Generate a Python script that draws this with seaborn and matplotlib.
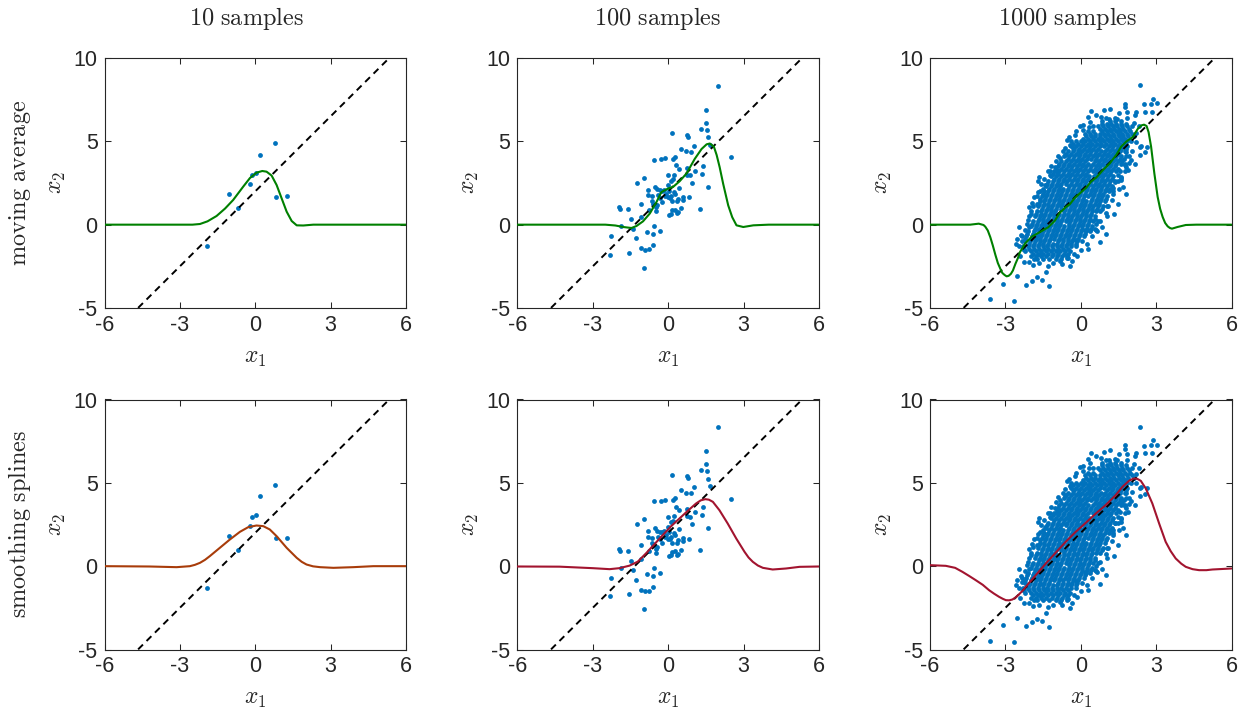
import numpy as np
import pandas as pd
import matplotlib
matplotlib.use('Agg')
import matplotlib.pyplot as plt
import seaborn as sns

sns.set_theme(style='ticks')
plt.rcParams['font.family'] = ['Liberation Sans', 'DejaVu Sans']
plt.rcParams['mathtext.fontset'] = 'cm'
plt.rcParams['axes.unicode_minus'] = False

# ---- data ----
col_titles = ['10 samples', '100 samples', '1000 samples']
row_titles = ['moving average', 'smoothing splines']

# true relation (dashed)
ref_x = [-6, 6]
ref_y = [-7, 11]

pts10 = [(0.78, 4.89), (0.20, 4.18), (-0.11, 2.98), (0.03, 3.08), (-0.20, 2.42),
         (-1.04, 1.84), (-0.69, 1.00), (0.81, 1.68), (1.25, 1.72), (-1.94, -1.29)]

pts100 = [(1.98, 8.33), (1.51, 6.89), (1.49, 6.12), (1.30, 5.74), (1.55, 5.68),
          (1.58, 5.24), (0.17, 5.48), (0.76, 5.38), (0.80, 5.26), (1.04, 4.74),
          (0.50, 4.54), (0.72, 4.40), (0.89, 4.36), (1.66, 4.78), (2.51, 4.04),
          (-0.57, 3.90), (-0.29, 3.92), (-0.12, 3.98), (0.19, 3.96), (0.28, 4.06),
          (0.33, 3.57), (0.44, 3.35), (0.77, 3.41), (1.39, 3.53), (1.06, 3.23),
          (1.34, 3.05), (-0.98, 2.81), (-1.25, 2.51), (-0.01, 2.97), (0.23, 2.99),
          (0.19, 2.73), (0.11, 2.63), (0.86, 2.97), (0.77, 2.99), (0.94, 2.51),
          (1.58, 2.27), (-0.82, 2.11), (-0.53, 2.27), (-0.44, 2.13), (-0.33, 2.07),
          (-0.25, 2.03), (-0.15, 2.11), (-0.01, 2.37), (0.04, 2.03), (-0.07, 1.87),
          (0.44, 2.23), (0.25, 1.97), (0.29, 1.87), (-0.82, 1.77), (-0.66, 1.71),
          (-0.42, 1.77), (-0.33, 1.63), (-0.13, 1.73), (0.07, 1.61), (0.12, 1.73),
          (0.39, 1.57), (0.60, 1.67), (0.61, 1.51), (0.81, 1.65), (-1.09, 1.27),
          (-0.66, 1.41), (-0.60, 1.27), (-0.46, 1.16), (-0.24, 1.37), (0.01, 1.65),
          (0.15, 1.41), (0.36, 1.41), (-1.95, 1.04), (-1.90, 0.94), (-1.59, 0.92),
          (-0.76, 0.90), (-0.50, 0.80), (-0.48, 1.04), (0.15, 0.86), (0.29, 0.90),
          (0.40, 0.76), (0.50, 0.98), (0.03, 0.60), (0.11, 0.66), (0.36, 0.70),
          (1.27, 0.96), (-1.47, 0.32), (-1.09, 0.44), (-1.89, -0.10), (-1.38, -0.24),
          (-0.57, -0.10), (-0.32, -0.38), (-0.84, -0.44), (-0.60, -0.56), (-2.27, -0.70),
          (-1.27, -0.82), (-0.60, -1.22), (-1.09, -1.41), (-0.93, -1.51), (-0.78, -1.47),
          (-2.30, -1.79), (-1.55, -1.69), (-0.97, -2.59)]

# 1000 samples: scattered outer points ...
pts1000_outer = [(2.36, 8.37), (2.86, 7.55), (3.02, 7.29), (2.80, 7.25), (2.53, 7.23),
                 (1.78, 7.25), (1.77, 7.05), (1.16, 6.97), (0.91, 6.87), (0.41, 6.81),
                 (2.18, 6.77), (2.55, 6.79), (2.84, 6.77), (2.14, 6.59), (1.83, 6.39),
                 (1.54, 6.73), (1.85, 6.75), (0.82, 6.49), (1.02, 6.39), (1.35, 6.43),
                 (0.36, 6.18), (-0.04, 5.92), (0.33, 5.88), (-0.53, 5.08), (-0.63, 4.18),
                 (-0.30, 4.58), (2.34, 4.68), (2.64, 4.68), (2.57, 4.34), (2.40, 4.74),
                 (1.81, 4.38), (2.14, 3.67), (1.94, 3.73), (1.87, 3.27), (1.77, 3.21),
                 (1.61, 2.87), (1.62, 2.83), (1.61, 2.67), (1.68, 2.27), (1.54, 2.17),
                 (1.28, 1.87), (1.31, 0.62), (0.99, 0.72), (0.62, 0.02), (0.83, -0.14),
                 (0.65, -0.36), (0.16, -0.34), (-0.17, -0.90), (-0.50, -1.99), (-0.16, -1.85),
                 (-0.44, -2.49), (-1.40, -2.83), (-1.54, -3.31), (-1.25, -3.65), (-1.73, -3.15),
                 (-1.95, -3.35), (-2.18, -3.61), (-2.52, -3.09), (-3.10, -3.55), (-3.60, -4.48),
                 (-2.64, -4.56), (-2.07, -2.21), (-2.26, -2.21), (-1.86, -2.03), (-1.65, -2.31),
                 (-2.57, -1.15), (-2.52, -0.85), (-2.37, -0.59), (-2.04, -0.14), (-2.07, 0.50),
                 (-2.04, 1.06), (-1.93, 1.31), (-1.64, 1.56), (-1.62, 2.03), (-1.71, 2.63),
                 (-1.41, 2.37), (-1.23, 2.97), (-0.94, 3.31), (-0.54, -2.02), (-1.10, -2.30),
                 (-2.08, 0.26), (-1.75, 1.26), (-1.49, 2.17), (-1.66, 2.87), (-0.96, 3.17),
                 (1.02, -0.54), (1.48, 1.26), (1.81, 1.87), (0.75, -1.05), (0.29, -1.45),
                 (-0.83, -2.15), (-1.62, -1.75), (-2.28, -1.45), (-2.44, -0.14), (-0.24, 5.38),
                 (0.09, 5.68), (-0.44, 4.78), (-0.83, 3.98), (-1.03, 3.47), (2.20, 4.98),
                 (2.34, 4.18), (2.00, 3.88), (1.81, 3.47), (1.48, 2.97), (1.35, 2.57)]

# points along the rim of the dense core
pts1000_rim = [(-0.45, 5.25), (-0.20, 5.60), (-0.62, 4.60), (-0.90, 4.15), (-0.98, 3.85),
               (-1.20, 3.55), (-1.30, 3.20), (-1.45, 2.75), (-1.60, 2.45), (-1.72, 1.95),
               (-1.85, 1.65), (-1.90, 1.15), (-2.00, 0.80), (-2.12, 0.05), (-2.22, -0.30),
               (-2.35, -0.95), (-2.45, -1.30), (0.10, 6.00), (0.30, 6.45), (0.60, 6.60),
               (2.20, 5.50), (2.30, 5.90), (2.05, 4.45), (1.92, 4.10), (1.75, 3.60),
               (1.55, 3.25), (1.48, 2.60), (1.30, 2.20), (1.25, 1.50), (1.10, 1.10),
               (1.05, 0.50), (0.78, 0.25), (0.60, -0.30), (0.45, -0.70), (0.25, -1.15),
               (0.00, -1.50), (-0.25, -1.75), (-0.35, -2.20), (-0.75, -2.35), (-1.30, -2.45),
               (-1.90, -2.40), (-2.40, -1.90), (2.10, 6.10)]

# ... and the dense core, estimated row by row (x2 level, x1 positions)
core_y = [6.35, 6.2, 6.05, 5.9, 5.75, 5.6, 5.45, 5.3, 5.15, 5.0, 4.85, 4.7, 4.55, 4.4,
          4.25, 4.1, 3.95, 3.8, 3.65, 3.5, 3.35, 3.2, 3.05, 2.9, 2.75, 2.6, 2.45, 2.3,
          2.15, 2.0, 1.85, 1.7, 1.55, 1.4, 1.25, 1.1, 0.95, 0.8, 0.65, 0.5, 0.35, 0.2,
          0.05, -0.1, -0.25, -0.4, -0.55, -0.7, -0.85, -1.0, -1.15, -1.3, -1.45, -1.6,
          -1.75, -1.9, -2.05]
core_x = [
    [1.12, 1.45],
    [0.85, 1.18, 1.38, 1.62],
    [0.85, 1.05, 1.22, 1.42, 1.60, 1.82],
    [0.50, 0.68, 0.90, 1.08, 1.28, 1.46, 1.65, 1.85, 2.05],
    [0.78, 0.97, 1.15, 1.33, 1.52, 1.70, 1.92],
    [0.28, 0.48, 0.86, 1.04, 1.22, 1.42, 1.58, 1.78, 1.96],
    [0.18, 0.38, 0.55, 0.75, 0.93, 1.10, 1.30, 1.48, 1.66, 1.85, 2.02],
    [0.20, 0.40, 0.58, 0.78, 0.95, 1.15, 1.32, 1.52, 1.70, 1.88, 2.10],
    [0.10, 0.30, 0.48, 0.68, 0.85, 1.05, 1.22, 1.42, 1.60, 1.78],
    [-0.38, -0.20, 0.00, 0.18, 0.38, 0.56, 0.75, 0.94, 1.12, 1.30, 1.48, 1.68, 1.85, 2.00],
    [-0.30, -0.10, 0.08, 0.28, 0.45, 0.65, 0.82, 1.00, 1.20, 1.38, 1.56, 1.75],
    [-0.38, -0.20, 0.00, 0.20, 0.36, 0.56, 0.75, 0.92, 1.12, 1.30, 1.48, 1.66, 1.85],
    [-0.25, -0.05, 0.12, 0.32, 0.50, 0.70, 1.06, 1.25, 1.44, 1.62, 1.82],
    [-0.70, -0.52, -0.32, -0.12, 0.05, 0.25, 0.42, 0.62, 0.80, 0.98, 1.18, 1.36, 1.55, 1.75],
    [-0.60, -0.40, -0.20, -0.02, 0.18, 0.35, 0.55, 0.72, 0.92, 1.10, 1.28, 1.48],
    [-0.66, -0.48, -0.26, -0.08, 0.12, 0.30, 0.48, 0.66, 0.86, 1.04, 1.22, 1.42, 1.62, 1.82],
    [-0.52, -0.32, -0.12, 0.05, 0.25, 0.42, 0.62, 0.80, 0.98, 1.18, 1.36, 1.55, 1.72],
    [-0.80, -0.60, -0.40, -0.20, -0.02, 0.18, 0.55, 0.72, 0.92, 1.10, 1.28, 1.48, 1.66],
    [-0.85, -0.65, -0.45, -0.28, -0.08, 0.10, 0.30, 0.48, 0.68, 0.86, 1.05, 1.22, 1.42, 1.60, 1.78],
    [-0.92, -0.72, -0.52, -0.35, -0.14, 0.04, 0.22, 0.40, 0.60, 0.78, 0.96, 1.15, 1.35],
    [-0.78, -0.60, -0.40, -0.20, -0.02, 0.18, 0.36, 0.55, 0.74, 0.92, 1.10, 1.30, 1.50],
    [-1.22, -1.05, -0.86, -0.66, -0.48, -0.28, -0.10, 0.10, 0.28, 0.48, 0.66, 0.84, 1.04, 1.22, 1.42],
    [-1.12, -0.92, -0.72, -0.52, -0.35, -0.15, 0.05, 0.22, 0.60, 0.80, 0.98, 1.16],
    [-1.18, -0.98, -0.80, -0.60, -0.42, -0.22, -0.04, 0.15, 0.34, 0.52, 0.72, 0.90, 1.10, 1.30],
    [-1.05, -0.85, -0.66, -0.48, -0.28, -0.10, 0.10, 0.28, 0.48, 0.66, 0.85, 1.04, 1.25],
    [-1.30, -1.10, -0.92, -0.72, -0.55, -0.35, -0.16, 0.04, 0.22, 0.42, 0.60, 0.80, 0.98, 1.18, 1.38],
    [-1.35, -1.15, -0.95, -0.78, -0.58, -0.40, -0.20, -0.02, 0.18, 0.36, 0.55, 0.74, 0.92, 1.12],
    [-1.40, -1.20, -1.00, -0.82, -0.45, -0.26, -0.06, 0.12, 0.30, 0.50, 0.68, 0.86, 1.06, 1.24],
    [-1.26, -1.06, -0.88, -0.70, -0.50, -0.30, -0.12, 0.06, 0.25, 0.44, 0.62, 0.82, 1.00, 1.18],
    [-1.48, -1.30, -1.10, -0.92, -0.74, -0.55, -0.36, -0.16, 0.02, 0.20, 0.40, 0.58, 0.76, 0.96, 1.12, 1.30],
    [-1.52, -1.35, -1.15, -0.96, -0.78, -0.58, -0.40, -0.22, -0.02, 0.16, 0.35, 0.52, 0.72, 0.90],
    [-1.74, -1.56, -1.38, -1.18, -1.00, -0.82, -0.62, -0.44, -0.26, -0.06, 0.12, 0.30, 0.48, 0.68, 0.86, 1.04],
    [-1.42, -1.22, -1.04, -0.85, -0.66, -0.48, -0.30, -0.10, 0.08, 0.45, 0.64, 0.82, 1.00],
    [-1.64, -1.45, -1.26, -1.08, -0.88, -0.70, -0.52, -0.32, -0.14, 0.04, 0.22, 0.40, 0.60, 0.78, 0.95],
    [-1.68, -1.48, -1.30, -1.10, -0.92, -0.74, -0.55, -0.36, -0.18, 0.00, 0.18, 0.36, 0.55, 0.72],
    [-1.70, -1.52, -1.32, -1.14, -0.96, -0.78, -0.58, -0.40, -0.22, -0.04, 0.14, 0.32, 0.50, 0.70, 0.88, 1.05],
    [-1.55, -1.36, -1.18, -0.98, -0.80, -0.62, -0.44, -0.25, -0.08, 0.10, 0.28, 0.46, 0.65, 0.85],
    [-1.76, -1.58, -1.40, -1.20, -1.02, -0.65, -0.46, -0.28, -0.10, 0.08, 0.26, 0.44, 0.62, 0.78],
    [-1.98, -1.80, -1.60, -1.42, -1.24, -1.05, -0.86, -0.68, -0.50, -0.32, -0.14, 0.04, 0.22, 0.40],
    [-1.84, -1.64, -1.46, -1.28, -1.08, -0.90, -0.72, -0.52, -0.35, -0.16, 0.02, 0.20, 0.38, 0.58],
    [-1.68, -1.50, -1.30, -1.12, -0.94, -0.75, -0.56, -0.38, -0.20, -0.02, 0.16, 0.35, 0.55],
    [-1.90, -1.72, -1.52, -1.34, -1.16, -0.96, -0.78, -0.60, -0.42, -0.22, -0.04, 0.14, 0.32, 0.50, 0.68],
    [-1.94, -1.75, -1.56, -1.38, -1.20, -1.00, -0.82, -0.45, -0.26, -0.08, 0.10, 0.30],
    [-1.98, -1.80, -1.60, -1.42, -1.24, -1.04, -0.86, -0.68, -0.48, -0.30, -0.12, 0.06, 0.26, 0.44],
    [-1.84, -1.65, -1.45, -1.26, -1.08, -0.90, -0.70, -0.52, -0.34, -0.15, 0.04, 0.24, 0.40, 0.58],
    [-2.08, -1.88, -1.68, -1.50, -1.32, -1.12, -0.94, -0.76, -0.56, -0.38, -0.18, 0.00, 0.20, 0.36],
    [-2.12, -1.92, -1.72, -1.54, -1.36, -1.16, -0.98, -0.80, -0.60, -0.42, -0.22, -0.04, 0.16],
    [-2.34, -2.16, -1.96, -1.76, -1.58, -1.40, -1.20, -1.02, -0.84, -0.64, -0.46, -0.26, -0.08, 0.12],
    [-2.20, -2.00, -1.80, -1.62, -1.44, -1.24, -1.06, -0.88, -0.70, -0.50, -0.32, -0.12],
    [-2.22, -2.02, -1.84, -1.64, -1.46, -1.28, -0.90, -0.72, -0.52, -0.34, -0.14, 0.04],
    [-2.06, -1.86, -1.68, -1.50, -1.30, -1.12, -0.94, -0.75, -0.56, -0.38, -0.18],
    [-2.28, -2.08, -1.90, -1.70, -1.52, -1.34, -1.14, -0.96, -0.78, -0.58, -0.40, -0.20],
    [-2.25, -2.05, -1.86, -1.66, -1.48, -1.30, -1.10, -0.92, -0.72, -0.52],
    [-2.20, -2.00, -1.80, -1.60, -1.40, -1.20, -1.00, -0.82, -0.62, -0.42],
    [-1.90, -1.70, -1.50, -1.30, -1.10, -0.90, -0.68, -0.50],
    [-2.00, -1.78, -1.58, -1.38, -1.16, -0.96, -0.74, -0.55],
    [-1.75, -1.52, -1.28, -1.00, -0.78],
]

# moving average fits (top row)
ma10_x = [-6, -3.0, -2.5, -2.2, -1.9, -1.54, -1.2, -0.88, -0.48, -0.21, 0.05, 0.28,
          0.45, 0.65, 0.85, 1.05, 1.25, 1.45, 1.65, 1.91, 2.31, 3.0, 6]
ma10_y = [0, 0, 0.0, 0.04, 0.2, 0.52, 0.97, 1.48, 2.28, 2.80, 3.12, 3.22,
          3.18, 2.95, 2.38, 1.58, 0.78, 0.22, -0.04, -0.05, 0.0, 0, 0]

ma100_x = [-6, -2.5, -2.1, -1.79, -1.46, -1.26, -1.0, -0.73, -0.46, -0.27, 0.0, 0.2,
           0.46, 0.73, 1.06, 1.33, 1.53, 1.66, 1.82, 1.93, 2.05, 2.19, 2.39, 2.55,
           2.72, 2.99, 3.39, 4.0, 6]
ma100_y = [0, 0, -0.05, -0.14, -0.2, -0.08, 0.2, 0.67, 1.37, 1.95, 2.17, 2.27,
           2.61, 3.07, 3.95, 4.54, 4.82, 4.87, 4.68, 4.18, 3.45, 2.45, 1.16, 0.45,
           -0.04, -0.14, -0.04, 0, 0]

ma1000_x = [-6, -4.4, -4.06, -3.87, -3.8, -3.7, -3.6, -3.5, -3.4, -3.3, -3.2, -3.12,
            -3.03, -2.95, -2.87, -2.78, -2.7, -2.6, -2.5, -2.42, -2.2, -1.95, -1.62,
            -1.3, -1.03, -0.83, -0.59, -0.44, -0.24, 0.03, 0.22, 0.42, 0.62, 0.88, 1.15,
            1.41, 1.61, 1.81, 2.07, 2.27, 2.42, 2.52, 2.62, 2.70, 2.80, 2.93, 3.06,
            3.16, 3.26, 3.36, 3.46, 3.55, 3.63, 3.85, 4.18, 4.6, 6]
ma1000_y = [0, 0, 0.06, -0.02, -0.12, -0.35, -0.75, -1.25, -1.8, -2.3, -2.65, -2.9,
            -3.02, -3.1, -3.07, -2.95, -2.75, -2.35, -2.0, -1.65, -1.1, -0.72, -0.44,
            -0.16, 0.24, 0.72, 1.06, 1.22, 1.6, 1.97, 2.22, 2.6, 2.83, 3.27, 3.67,
            4.18, 4.68, 4.98, 5.26, 5.75, 5.96, 6.0, 5.92, 5.55, 4.68, 3.07, 1.67,
            0.95, 0.46, 0.1, -0.10, -0.2, -0.24, -0.14, -0.02, 0, 0]

# smoothing spline fits (bottom row)
ss10_x = [-6, -4.2, -3.13, -2.6, -2.4, -2.2, -2.0, -1.81, -1.41, -1.01, -0.61, -0.28,
          0.05, 0.32, 0.58, 0.85, 1.25, 1.65, 1.85, 2.04, 2.3, 2.58, 3.11, 3.9, 4.7, 6]
ss10_y = [0, -0.02, -0.06, 0.0, 0.08, 0.2, 0.38, 0.6, 1.1, 1.6, 2.06, 2.34,
          2.44, 2.4, 2.2, 1.8, 1.1, 0.5, 0.26, 0.1, -0.01, -0.06, -0.1, -0.06, 0, 0]

ss100_x = [-6, -4.32, -3.0, -2.33, -1.94, -1.54, -1.21, -0.88, -0.54, -0.21, 0.12, 0.45,
           0.78, 1.11, 1.30, 1.48, 1.62, 1.78, 2.04, 2.37, 2.71, 3.04, 3.2, 3.37, 3.57,
           3.77, 4.16, 4.69, 5.23, 6]
ss100_y = [-0.02, -0.03, -0.12, -0.18, -0.12, 0.03, 0.27, 0.77, 1.33, 1.87, 2.4, 2.86,
           3.32, 3.76, 3.95, 4.02, 3.99, 3.86, 3.36, 2.56, 1.66, 0.86, 0.52, 0.26, 0.04,
           -0.1, -0.2, -0.14, -0.04, -0.02]

ss1000_x = [-6, -5.37, -5.0, -4.71, -4.45, -4.18, -3.9, -3.65, -3.45, -3.25, -3.1, -2.98,
            -2.85, -2.72, -2.6, -2.45, -2.3, -2.19, -1.79, -1.39, -0.99, -0.6, -0.2, 0.2,
            0.6, 0.99, 1.39, 1.66, 1.92, 2.1, 2.25, 2.39, 2.59, 2.85, 3.12, 3.38, 3.58,
            3.78, 4.0, 4.18, 4.45, 4.71, 5.0, 5.24, 6]
ss1000_y = [0.06, 0.02, -0.1, -0.34, -0.58, -0.84, -1.12, -1.44, -1.65, -1.84, -1.96, -2.04,
            -2.05, -2.0, -1.88, -1.68, -1.45, -1.24, -0.54, 0.16, 0.82, 1.46, 2.06, 2.6,
            3.16, 3.66, 4.26, 4.76, 5.12, 5.26, 5.24, 5.12, 4.66, 3.76, 2.56, 1.46, 0.9,
            0.46, 0.15, -0.04, -0.18, -0.24, -0.24, -0.2, -0.14]

blue = '#0072BD'
green = '#008000'
orange = '#A83C0A'
crimson = '#A2142F'
axcol = '#262626'

# ---- assemble samples ----
core_pts = [(x, y) for y, xs in zip(core_y, core_x) for x in xs]
samples = {
    0: pd.DataFrame(pts10, columns=['x1', 'x2']),
    1: pd.DataFrame(pts100, columns=['x1', 'x2']),
    2: pd.DataFrame(core_pts + pts1000_rim + pts1000_outer, columns=['x1', 'x2']),
}
fits = {
    (0, 0): (ma10_x, ma10_y, green), (0, 1): (ma100_x, ma100_y, green),
    (0, 2): (ma1000_x, ma1000_y, green),
    (1, 0): (ss10_x, ss10_y, orange), (1, 1): (ss100_x, ss100_y, crimson),
    (1, 2): (ss1000_x, ss1000_y, crimson),
}

W, H = 1247, 712
fig = plt.figure(figsize=(W / 100, H / 100), dpi=100)
lefts = [104.5, 517.4, 930.0]
tops = [58.0, 399.5]
aw, ah = 301.5, 250.0
title_cx = [247, 658, 1068]

for r in range(2):
    for c in range(3):
        ax = fig.add_axes([lefts[c] / W, 1 - (tops[r] + ah) / H, aw / W, ah / H])
        df = samples[c]
        sns.scatterplot(data=df, x='x1', y='x2', ax=ax, s=12, color=blue,
                        linewidth=0, zorder=2)
        sns.lineplot(x=ref_x, y=ref_y, ax=ax, color='black', lw=1.4,
                     linestyle=(0, (3.5, 2.6)), zorder=3)
        fx, fy, fc = fits[(r, c)]
        sns.lineplot(x=fx, y=fy, ax=ax, color=fc, lw=1.5, sort=False,
                     estimator=None, zorder=4)
        ax.set_xlim(-6, 6)
        ax.set_ylim(-5, 10)
        ax.set_xticks([-6, -3, 0, 3, 6])
        ax.set_yticks([-5, 0, 5, 10])
        ax.tick_params(direction='in', top=True, right=True, length=4, width=0.75,
                       labelsize=15.5, colors=axcol, pad=5)
        for sp in ax.spines.values():
            sp.set_color(axcol)
            sp.set_linewidth(0.8)
        ax.set_xlabel(r'$x_1$', fontsize=17, va='center')
        ax.xaxis.set_label_coords(0.5, -0.2)
        ax.set_ylabel(r'$x_2$', fontsize=17, va='center')
        ax.yaxis.set_label_coords(-0.156, 0.5)

for c, t in enumerate(col_titles):
    fig.text(title_cx[c] / W, 1 - 18 / H,
             r'$\mathrm{' + t.replace(' ', r'\ ') + '}$',
             fontsize=17.5, ha='center', va='center')
for r, t in enumerate(row_titles):
    fig.text(20 / W, 1 - (tops[r] + ah / 2) / H,
             r'$\mathrm{' + t.replace(' ', r'\ ') + '}$',
             fontsize=17.5, ha='center', va='center', rotation=90)

fig.savefig('out.png', dpi=100)
